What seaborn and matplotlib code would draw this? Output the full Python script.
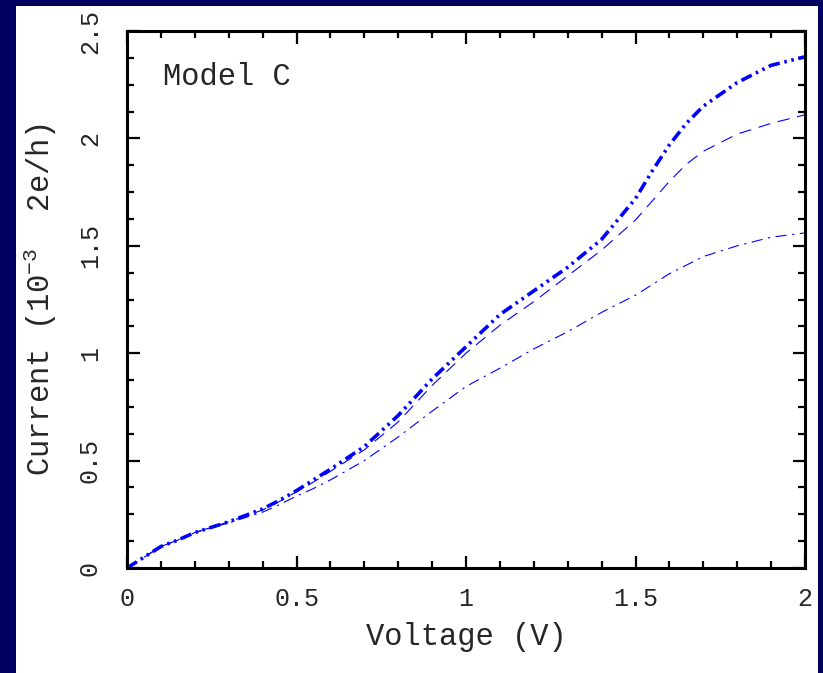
import numpy as np
import pandas as pd
import seaborn as sns
import matplotlib.pyplot as plt
from matplotlib.patches import Rectangle
from matplotlib.ticker import MultipleLocator

# data
voltage = [0.0, 0.05, 0.1, 0.15, 0.2, 0.3, 0.4, 0.45, 0.5, 0.55, 0.6, 0.7,
           0.8, 0.9, 1.0, 1.1, 1.2, 1.3, 1.4, 1.5, 1.55, 1.6, 1.65, 1.7, 1.8,
           1.9, 2.0]
current_thick = [0.0, 0.05, 0.10, 0.13, 0.165, 0.215, 0.275, 0.315, 0.36,
                 0.41, 0.46, 0.565, 0.71, 0.88, 1.03, 1.18, 1.29, 1.40, 1.53,
                 1.72, 1.85, 1.97, 2.07, 2.15, 2.26, 2.34, 2.38]
current_dashed = [0.0, 0.05, 0.10, 0.13, 0.165, 0.215, 0.27, 0.31, 0.355,
                  0.40, 0.45, 0.55, 0.68, 0.85, 1.00, 1.13, 1.24, 1.36, 1.48,
                  1.62, 1.71, 1.80, 1.88, 1.94, 2.02, 2.07, 2.11]
current_dashdot = [0.0, 0.05, 0.10, 0.13, 0.165, 0.21, 0.26, 0.295, 0.335,
                   0.37, 0.41, 0.50, 0.61, 0.73, 0.845, 0.93, 1.02, 1.10,
                   1.19, 1.27, 1.32, 1.37, 1.41, 1.45, 1.50, 1.54, 1.56]

xticks = [0, 0.5, 1, 1.5, 2]
xtick_labels = ["0", "0.5", "1", "1.5", "2"]
yticks = [0, 0.5, 1, 1.5, 2, 2.5]
ytick_labels = ["0", "0.5", "1", "1.5", "2", "2.5"]

df = pd.DataFrame({"V": voltage, "thick": current_thick,
                   "dashed": current_dashed, "dashdot": current_dashdot})

sns.set_style("ticks")
plt.rcParams['font.family'] = ['Liberation Mono', 'DejaVu Sans']
plt.rcParams['mathtext.fontset'] = 'custom'
plt.rcParams['mathtext.rm'] = 'Liberation Mono'
plt.rcParams['mathtext.default'] = 'regular'

navy = "#000060"
blue = "#0000ff"

fig = plt.figure(figsize=(8.23, 6.73), dpi=100)
fig.patch.set_facecolor(navy)
# white panel inside the navy frame
fig.patches.append(Rectangle((16 / 823, 0), 802 / 823, 667 / 673,
                             transform=fig.transFigure, facecolor="white",
                             edgecolor="none", zorder=-10))
ax = fig.add_axes([127 / 823, 1 - 568 / 673, 678 / 823, 537 / 673])
ax.set_zorder(1)
ax.set_facecolor("white")

sns.lineplot(data=df, x="V", y="thick", ax=ax, color=blue, lw=2.6,
             linestyle=(0, (3.2, 1.3, 0.7, 1.3, 0.7, 1.3)))
sns.lineplot(data=df, x="V", y="dashed", ax=ax, color=blue, lw=0.8,
             linestyle=(0, (11, 7)))
sns.lineplot(data=df, x="V", y="dashdot", ax=ax, color=blue, lw=0.8,
             linestyle=(0, (10, 5, 2, 5)))

ax.set_xlim(0, 2)
ax.set_ylim(0, 2.5)
ax.set_xticks(xticks)
ax.set_xticklabels(xtick_labels)
ax.set_yticks(yticks)
ax.set_yticklabels(ytick_labels, rotation=90, va="center")
ax.xaxis.set_minor_locator(MultipleLocator(0.1))
ax.yaxis.set_minor_locator(MultipleLocator(0.125))

for s in ax.spines.values():
    s.set_visible(True)
    s.set_linewidth(2.2)
    s.set_color("black")
ax.tick_params(which="both", direction="in", top=True, right=True,
               width=1.6, color="black", labelsize=18)
ax.tick_params(which="major", length=9)
ax.tick_params(which="minor", length=5)
ax.tick_params(axis="x", pad=14)
ax.tick_params(axis="y", pad=18)

ax.set_xlabel("Voltage (V)", fontsize=22)
ax.set_ylabel("Current (10$^{-3}$  2e/h)", fontsize=22)
ax.xaxis.set_label_coords(0.5, -0.10)
ax.yaxis.set_label_coords(-0.10, 0.5)

ax.text(0.053, 0.899, "Model C", transform=ax.transAxes, fontsize=22,
        va="baseline", ha="left")

fig.savefig("out.png", dpi=100, facecolor=fig.get_facecolor())
